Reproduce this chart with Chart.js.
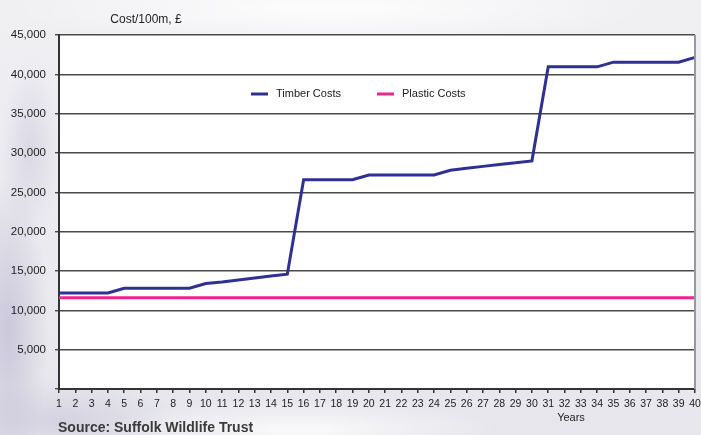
<!DOCTYPE html>
<html>
<head>
<meta charset="utf-8">
<script src="https://cdn.jsdelivr.net/npm/chart.js@4/dist/chart.umd.min.js"></script>
<style>
  body { margin: 0; background: #ebebef; }
  #wrap {
    position: relative; width: 701px; height: 435px; overflow: hidden;
    background:
      radial-gradient(ellipse 40px 160px at 8px 330px, rgba(190,186,210,0.7), transparent),
      radial-gradient(ellipse 30px 90px at 30px 150px, rgba(200,196,218,0.5), transparent),
      radial-gradient(ellipse 320px 40px at 330px 8px, rgba(255,255,255,0.9), transparent),
      radial-gradient(ellipse 200px 30px at 300px 430px, rgba(255,255,255,0.8), transparent),
      radial-gradient(ellipse 120px 40px at 60px 420px, rgba(205,202,220,0.7), transparent),
      linear-gradient(#f0f0f3, #e6e6ec);
  }
  #source {
    position: absolute; left: 58px; top: 419px;
    font: bold 14px "Liberation Sans", Arial, sans-serif; color: #3a3a3a;
  }
</style>
</head>
<body>
<div id="wrap">
  <canvas id="costChart" width="701" height="435"></canvas>
  <div id="source">Source: Suffolk Wildlife Trust</div>
</div>
<script>
// Chart data
const years = Array.from({ length: 40 }, (_, i) => String(i + 1));
const timberCosts = [
  12200, 12200, 12200, 12200, 12800, 12800, 12800, 12800, 12800, 13400,
  13600, 13850, 14100, 14350, 14600, 26600, 26600, 26600, 26600, 27200,
  27200, 27200, 27200, 27200, 27800, 28050, 28300, 28550, 28750, 29000,
  40950, 40950, 40950, 40950, 41550, 41550, 41550, 41550, 41550, 42150
];
const plasticCosts = years.map(() => 11600);
const yTicks = [0, 5000, 10000, 15000, 20000, 25000, 30000, 35000, 40000, 45000];

const fontFamily = "'Liberation Sans', Arial, sans-serif";
const textColor = '#222222';

// Plot background, right border, titles and inner legend
const paperPlugin = {
  id: 'paper',
  beforeDraw(chart) {
    const { ctx, chartArea: a } = chart;
    ctx.save();
    ctx.fillStyle = '#ffffff';
    ctx.fillRect(a.left, a.top, a.right - a.left, a.bottom - a.top);
    ctx.restore();
  },
  afterDraw(chart) {
    const { ctx, chartArea: a } = chart;
    ctx.save();
    // right border
    ctx.strokeStyle = '#9a9a9a';
    ctx.lineWidth = 2;
    ctx.beginPath();
    ctx.moveTo(a.right, a.top);
    ctx.lineTo(a.right, a.bottom);
    ctx.stroke();

    // axis titles
    ctx.fillStyle = textColor;
    ctx.textBaseline = 'middle';
    ctx.textAlign = 'center';
    ctx.font = '12px ' + fontFamily;
    ctx.fillText('Cost/100m, £', a.left + 87, 20);
    ctx.font = '11px ' + fontFamily;
    ctx.fillText('Years', 571, 418);

    // legend inside plot
    ctx.textAlign = 'left';
    ctx.font = '11px ' + fontFamily;
    let x = a.left + 192;
    const y = a.top + 59;
    chart.data.datasets.forEach(ds => {
      ctx.strokeStyle = ds.borderColor;
      ctx.lineWidth = 3;
      ctx.beginPath();
      ctx.moveTo(x, y);
      ctx.lineTo(x + 17, y);
      ctx.stroke();
      ctx.fillStyle = textColor;
      ctx.fillText(ds.label, x + 25, y);
      x += 25 + ctx.measureText(ds.label).width + 36;
    });
    ctx.restore();
  }
};

new Chart(document.getElementById('costChart'), {
  type: 'line',
  data: {
    labels: years,
    datasets: [
      {
        label: 'Timber Costs',
        data: timberCosts,
        borderColor: '#2e3192',
        borderWidth: 3,
        pointRadius: 0,
        tension: 0
      },
      {
        label: 'Plastic Costs',
        data: plasticCosts,
        borderColor: '#ec268f',
        borderWidth: 3,
        pointRadius: 0,
        tension: 0
      }
    ]
  },
  options: {
    responsive: false,
    animation: false,
    layout: { padding: { top: 35, right: 6, left: 0, bottom: 0 } },
    plugins: {
      legend: { display: false },
      tooltip: { enabled: false }
    },
    scales: {
      x: {
        offset: false,
        grid: { drawOnChartArea: false, color: '#333333', tickLength: 4, lineWidth: 1.5 },
        border: { color: '#333333', width: 2 },
        ticks: {
          autoSkip: false,
          maxRotation: 0,
          padding: 5,
          color: textColor,
          font: { size: 10.5, family: fontFamily }
        },
        afterFit(scale) {
          scale.height = 46;
          scale.paddingLeft = 0;
          scale.paddingRight = 0;
        }
      },
      y: {
        min: 0,
        max: 45000,
        afterBuildTicks(scale) { scale.ticks = yTicks.map(v => ({ value: v })); },
        grid: { color: '#4a4a4a', lineWidth: 1.4, tickLength: 4 },
        border: { color: '#333333', width: 2 },
        ticks: {
          padding: 9,
          color: textColor,
          font: { size: 11.5, family: fontFamily },
          callback: v => v === 0 ? '' : v.toLocaleString('en-US')
        },
        afterFit(scale) { scale.width = 59; }
      }
    }
  },
  plugins: [paperPlugin]
});
</script>
</body>
</html>
